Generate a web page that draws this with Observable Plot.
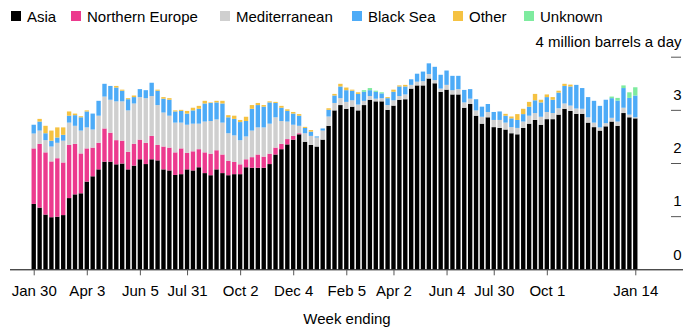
<!DOCTYPE html>
<html><head><meta charset="utf-8">
<script src="https://cdn.jsdelivr.net/npm/d3@7"></script>
<script src="https://cdn.jsdelivr.net/npm/@observablehq/plot@0.6"></script>
<style>
body{margin:0;background:#fff;font-family:"Liberation Sans",Arial,Helvetica,sans-serif;}
#legend{position:relative;height:31px;font-size:15px;color:#000;}
.item{position:absolute;top:8px;display:flex;align-items:center;height:16px;white-space:nowrap;}
.sw{width:10px;height:10px;margin-right:6px;}
#chart svg{display:block;}
</style></head><body>
<div id="legend"></div><div id="chart"></div>
<script>
const seriesNames = ["Asia","Northern Europe","Mediterranean","Black Sea","Other","Unknown"];
const seriesColors = ["#000000","#ec3a8e","#cfcfcf","#4dabf7","#f5c242","#7eeb9f"];

const asia = [1.23,1.16,1.03,0.98,0.99,1.02,1.34,1.41,1.43,1.65,
1.75,1.88,2.025,2.025,1.975,1.99,1.88,1.95,2.07,1.98,
2.07,2.05,1.88,1.86,1.775,1.79,1.88,1.86,1.92,1.81,
1.77,1.88,1.81,1.77,1.79,1.79,1.92,1.91,1.91,1.91,
1.98,2.16,2.26,2.35,2.44,2.54,2.40,2.34,2.31,2.44,
2.70,2.99,3.09,3.02,3.06,2.99,3.09,3.19,3.16,3.16,
3.00,3.08,3.19,3.20,3.40,3.46,3.46,3.59,3.50,3.34,
3.38,3.29,3.29,3.04,3.11,2.89,2.74,2.86,2.675,2.66,
2.63,2.56,2.54,2.66,2.74,2.81,2.72,2.825,2.825,2.91,
3.02,2.98,2.925,2.925,2.76,2.675,2.61,2.69,2.78,2.70,
2.94,2.86,2.84];

const northernEurope = [1.045,1.20,1.17,1.05,1.10,0.99,1.00,0.95,0.75,0.625,
0.54,0.50,0.625,0.545,0.455,0.43,0.33,0.41,0.37,0.40,
0.44,0.29,0.43,0.43,0.425,0.485,0.31,0.36,0.34,0.39,
0.405,0.36,0.35,0.27,0.23,0.185,0.15,0.20,0.25,0.21,
0.195,0.13,0.10,0.10,0.07,0.02,0,0,0,0,
0,0,0,0,0,0,0,0,0,0,
0,0,0,0,0,0,0,0,0,0,
0,0,0,0,0,0,0,0,0,0,
0,0,0,0,0,0,0,0,0,0,
0,0,0,0,0,0,0,0,0,0,
0,0,0];

const mediterranean = [0.28,0.25,0.23,0.28,0.29,0.41,0.42,0.34,0.43,0.395,
0.34,0.51,0.60,0.62,0.73,0.74,0.78,0.76,0.80,0.84,
0.75,0.75,0.64,0.60,0.56,0.485,0.53,0.52,0.48,0.58,
0.615,0.58,0.60,0.52,0.50,0.455,0.43,0.50,0.51,0.55,
0.565,0.57,0.43,0.33,0.21,0.14,0.16,0.17,0.17,0.17,
0.175,0.14,0.13,0.13,0.12,0.11,0.08,0.07,0.05,0.06,
0.09,0.10,0.07,0.09,0.07,0.07,0.08,0.085,0.06,0.06,
0.09,0.08,0.10,0.10,0.10,0.10,0.13,0.10,0.135,0.15,
0.13,0.115,0.12,0.12,0.15,0.13,0.15,0.135,0.115,0.12,
0.10,0.10,0.10,0.095,0.10,0.085,0.06,0.06,0.07,0.08,
0.10,0.05,0.02];

const blackSea = [0.165,0.17,0.13,0.11,0.10,0.11,0.13,0.20,0.25,0.30,
0.30,0.28,0.24,0.26,0.26,0.20,0.21,0.12,0.15,0.15,
0.25,0.27,0.26,0.30,0.21,0.22,0.21,0.25,0.28,0.34,
0.34,0.32,0.36,0.30,0.31,0.34,0.29,0.41,0.42,0.39,
0.40,0.27,0.25,0.20,0.21,0.19,0.10,0.08,0.02,0.04,
0.125,0.14,0.22,0.22,0.18,0.20,0.17,0.11,0.13,0.09,
0.13,0.16,0.18,0.15,0.105,0.15,0.18,0.20,0.25,0.26,
0.27,0.27,0.25,0.235,0.18,0.21,0.19,0.15,0.15,0.16,
0.13,0.165,0.15,0.14,0.17,0.24,0.27,0.28,0.25,0.295,
0.33,0.36,0.445,0.39,0.38,0.41,0.405,0.44,0.37,0.395,
0.37,0.315,0.41];

const other = [0,0.05,0.14,0.19,0.19,0.14,0.08,0.03,0.02,0.02,
0,0,0,0,0.03,0.02,0.02,0.03,0,0,
0,0.02,0.03,0.03,0.02,0.02,0.05,0.05,0.055,0.05,
0.01,0.03,0.05,0.04,0.06,0.04,0.08,0.07,0.04,0.03,
0.02,0.02,0.035,0.03,0.03,0.03,0.02,0.03,0,0,
0.03,0.03,0.05,0.05,0.02,0.03,0,0,0,0,
0.02,0.04,0.02,0.03,0,0,0,0,0,0,
0,0,0,0,0,0,0,0,0,0,
0.035,0.035,0.11,0.10,0.09,0.12,0.05,0.05,0.05,0.035,
0.04,0.035,0,0,0,0,0,0,0,0,
0,0,0];

const unknown = [0,0,0,0,0,0,0,0,0,0,
0,0,0,0,0,0,0,0,0,0,
0,0,0,0,0,0,0,0,0,0,
0,0,0,0,0,0,0,0,0,0,
0,0,0,0,0,0,0,0,0,0,
0,0,0,0,0,0,0.03,0.04,0.02,0.02,
0,0,0,0,0,0,0,0,0,0,
0,0,0,0,0,0,0,0,0,0,
0,0,0,0,0,0,0,0,0,0,
0,0,0,0,0,0,0,0,0.03,0.05,
0.05,0.105,0.155];

// week-ending dates (categories)
const firstWeek = "2022-01-30";
const weeks = asia.map((_, i) => d3.utcDay.offset(new Date(firstWeek), 7 * i).toISOString().slice(0, 10));

const tickDates = ["2022-01-30","2022-04-03","2022-06-05","2022-07-31","2022-10-02","2022-12-04",
  "2023-02-05","2023-04-02","2023-06-04","2023-07-30","2023-10-01","2024-01-14"];
const tickLabels = ["Jan 30","Apr 3","Jun 5","Jul 31","Oct 2","Dec 4","Feb 5","Apr 2","Jun 4","Jul 30","Oct 1","Jan 14"];
const labelMap = new Map(tickDates.map((d, i) => [d, tickLabels[i]]));

const yTicks = [0, 1, 2, 3, 4];
const yTickLabels = ["0", "1", "2", "3", "4 million barrels a day"];

const seriesValues = [asia, northernEurope, mediterranean, blackSea, other, unknown];
const table = [];
seriesNames.forEach((name, s) => {
  seriesValues[s].forEach((v, i) => table.push({week: weeks[i], series: name, value: v}));
});

// legend (item left edges in px)
const legendX = [11, 71, 220, 352, 453, 524];
const legend = document.getElementById("legend");
seriesNames.forEach((name, i) => {
  const it = document.createElement("div");
  it.className = "item";
  it.style.left = legendX[i] + "px";
  it.innerHTML = `<span class="sw" style="background:${seriesColors[i]}"></span><span>${name}</span>`;
  legend.appendChild(it);
});

const chart = Plot.plot({
  width: 700,
  height: 302,
  marginLeft: 10,
  marginRight: 17,
  marginTop: 25.7,
  marginBottom: 63.7,
  x: {type: "band", domain: weeks, range: [30, 639], padding: 0.26, align: 0.5},
  y: {domain: [0, 4], axis: null},
  color: {domain: seriesNames, range: seriesColors},
  style: {fontFamily: '"Liberation Sans", Arial, Helvetica, sans-serif', fontSize: "15px", color: "#000", background: "#fff", overflow: "visible"},
  marks: [
    Plot.barY(table, {x: "week", y: "value", fill: "series", z: "series"}),
    Plot.ruleY([0], {stroke: "#000", strokeWidth: 1}),
    Plot.ruleY(yTicks.filter(d => d > 0), {insetLeft: 661, insetRight: 2, stroke: "#555"}),
    Plot.text(yTicks, {y: d => d, text: (d, i) => yTickLabels[i], frameAnchor: "right", textAnchor: "end", dx: -2, dy: -15, fill: "#000"}),
    Plot.axisX({ticks: tickDates, tickFormat: d => labelMap.get(d), tickSize: 6, tickPadding: 10, label: null, stroke: "#555", fill: "#000"}),
    Plot.text(["Week ending"], {text: d => d, frameAnchor: "bottom", dy: 54, fill: "#000"})
  ]
});
document.getElementById("chart").appendChild(chart);
</script>
</body></html>
